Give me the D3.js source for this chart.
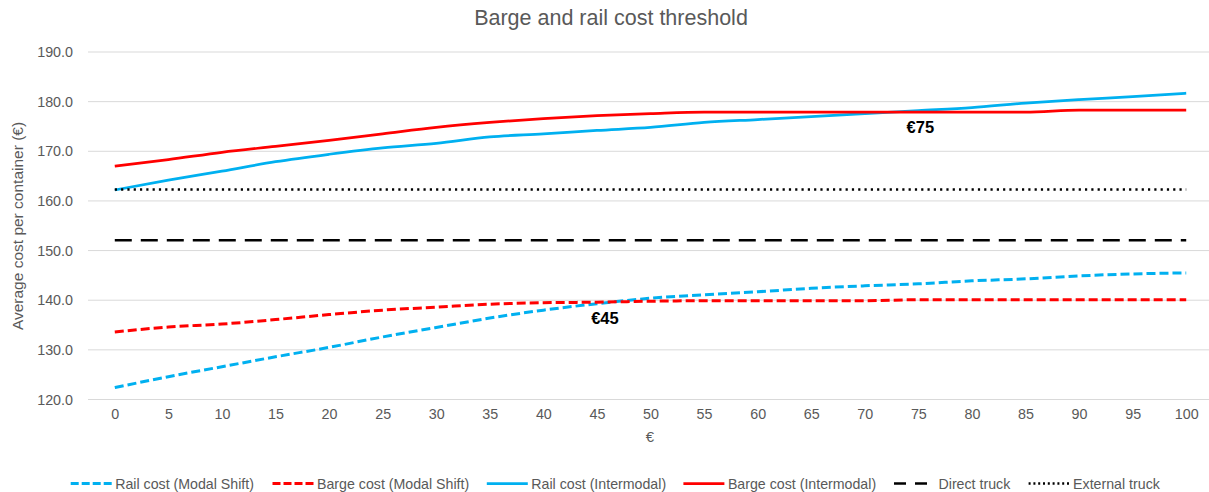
<!DOCTYPE html>
<html>
<head>
<meta charset="utf-8">
<script src="https://cdn.jsdelivr.net/npm/d3@7"></script>
<style>
  html, body { margin: 0; padding: 0; background: #fff; }
  svg { display: block; font-family: "Liberation Sans", Arial, sans-serif; }
</style>
</head>
<body>
<svg id="chart" width="1209" height="492"></svg>
<script>
// Subsidy levels (€) along the category axis
const categories = [0, 5, 10, 15, 20, 25, 30, 35, 40, 45, 50, 55, 60, 65, 70, 75, 80, 85, 90, 95, 100];

// Average cost per container (€) for each subsidy level
const railModalShift  = [122.4, 124.6, 126.6, 128.6, 130.5, 132.6, 134.5, 136.4, 138.0, 139.3, 140.4, 141.1, 141.7, 142.4, 142.9, 143.3, 143.9, 144.3, 144.9, 145.3, 145.5];
const bargeModalShift = [133.6, 134.6, 135.2, 136.1, 137.1, 138.0, 138.6, 139.2, 139.5, 139.6, 139.8, 139.9, 139.9, 139.9, 139.9, 140.1, 140.1, 140.1, 140.1, 140.1, 140.1];
const railIntermodal  = [162.2, 164.2, 166.0, 167.9, 169.4, 170.7, 171.6, 172.9, 173.5, 174.2, 174.8, 175.8, 176.4, 177.0, 177.6, 178.2, 178.8, 179.7, 180.4, 181.0, 181.7];
const bargeIntermodal = [167.0, 168.3, 169.8, 171.0, 172.2, 173.5, 174.8, 175.8, 176.6, 177.2, 177.6, 177.9, 177.9, 177.9, 177.9, 177.9, 177.9, 177.9, 178.3, 178.3, 178.3];
const directTruck     = categories.map(() => 152.1);
const externalTruck   = categories.map(() => 162.3);

const yTicks = [120, 130, 140, 150, 160, 170, 180, 190];

// Break-even annotations, anchored at the crossing of the two cost curves
const thresholds = [
  { x: 45, y: 139.6, label: "€45", dx: 8 },
  { x: 75, y: 178.0, label: "€75", dx: 2 }
];

const seriesList = [
  { name: "Rail cost (Modal Shift)",  values: railModalShift,  color: "#00B0F0", dash: "9,4",     legendDash: "8,3",   width: 3 },
  { name: "Barge cost (Modal Shift)", values: bargeModalShift, color: "#FF0000", dash: "9,4",     legendDash: "8,3",   width: 3 },
  { name: "Rail cost (Intermodal)",   values: railIntermodal,  color: "#00B0F0", dash: null,      legendDash: null,    width: 2.75 },
  { name: "Barge cost (Intermodal)",  values: bargeIntermodal, color: "#FF0000", dash: null,      legendDash: null,    width: 2.75 },
  { name: "Direct truck",             values: directTruck,     color: "#000000", dash: "17,9",    legendDash: "12,9",  width: 2.5 },
  { name: "External truck",           values: externalTruck,   color: "#000000", dash: "2.2,4.1", legendDash: "2,2.8", width: 2.5 }
];

const svg = d3.select("#chart");
const textColor = "#595959";

const plotLeft = 88, plotRight = 1213, plotTop = 52, plotBottom = 399.5;

const x = d3.scalePoint()
  .domain(categories)
  .range([plotLeft, plotRight])
  .padding(0.5);

const y = d3.scaleLinear()
  .domain([120, 190])
  .range([plotBottom, plotTop]);

// Title
svg.append("text")
  .attr("x", 611).attr("y", 24.5)
  .attr("text-anchor", "middle")
  .attr("font-size", 21.5)
  .attr("fill", textColor)
  .text("Barge and rail cost threshold");

// Horizontal gridlines
svg.append("g")
  .selectAll("line")
  .data(yTicks)
  .join("line")
  .attr("x1", plotLeft).attr("x2", 1209)
  .attr("y1", d => y(d)).attr("y2", d => y(d))
  .attr("stroke", "#D9D9D9")
  .attr("stroke-width", 1);

// Y axis labels
const yAxis = d3.axisLeft(y).tickValues(yTicks).tickFormat(d3.format(".1f")).tickSize(0).tickPadding(0);
const gy = svg.append("g").attr("transform", `translate(73,0)`).call(yAxis);
gy.select(".domain").remove();
gy.selectAll("text").attr("font-size", 14.3).attr("fill", textColor).attr("font-family", "Liberation Sans, Arial, sans-serif");

// X axis labels
const xAxis = d3.axisBottom(x).tickSize(0).tickPadding(0);
const gx = svg.append("g").attr("transform", `translate(0,${plotBottom + 9})`).call(xAxis);
gx.select(".domain").remove();
gx.selectAll("text").attr("font-size", 14.3).attr("fill", textColor).attr("font-family", "Liberation Sans, Arial, sans-serif");

// Axis titles
svg.append("text")
  .attr("transform", "translate(23,226) rotate(-90)")
  .attr("text-anchor", "middle")
  .attr("font-size", 15.5)
  .attr("fill", textColor)
  .text("Average cost per container (€)");

svg.append("text")
  .attr("x", 650).attr("y", 442)
  .attr("text-anchor", "middle")
  .attr("font-size", 15)
  .attr("fill", textColor)
  .text("€");

// Series lines
const line = d3.line()
  .x((d, i) => x(categories[i]))
  .y(d => y(d))
  .curve(d3.curveMonotoneX);

svg.append("g")
  .selectAll("path")
  .data(seriesList)
  .join("path")
  .attr("d", s => line(s.values))
  .attr("fill", "none")
  .attr("stroke", s => s.color)
  .attr("stroke-width", s => s.width)
  .attr("stroke-dasharray", s => s.dash)
  .attr("stroke-linejoin", "round");

// Threshold labels
svg.append("g")
  .selectAll("text")
  .data(thresholds)
  .join("text")
  .attr("x", d => x(d.x) + d.dx)
  .attr("y", d => y(d.y) + 21.5)
  .attr("text-anchor", "middle")
  .attr("font-size", 16.5)
  .attr("font-weight", "bold")
  .attr("fill", "#000")
  .text(d => d.label);

// Legend
const legendX = [70.7, 272.5, 486.8, 683.4, 894, 1028.6];
const legendY = 483.5;
const lg = svg.append("g");
seriesList.forEach((s, i) => {
  lg.append("line")
    .attr("x1", legendX[i]).attr("x2", legendX[i] + 41)
    .attr("y1", legendY).attr("y2", legendY)
    .attr("stroke", s.color)
    .attr("stroke-width", s.width)
    .attr("stroke-dasharray", s.legendDash);
  lg.append("text")
    .attr("x", legendX[i] + 44.5).attr("y", legendY + 5)
    .attr("font-size", 14.2)
    .attr("fill", textColor)
    .text(s.name);
});
</script>
</body>
</html>
